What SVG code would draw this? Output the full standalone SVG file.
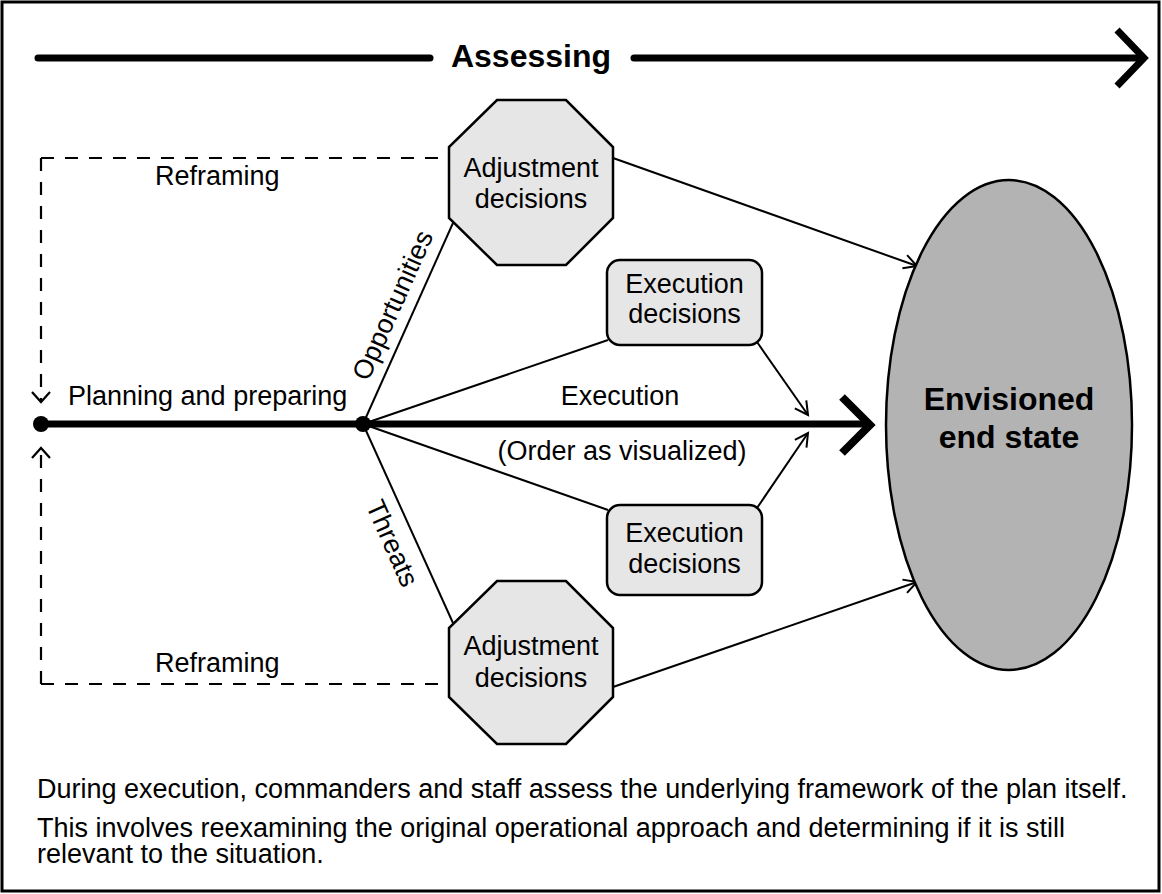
<svg xmlns="http://www.w3.org/2000/svg" width="1162" height="894" viewBox="0 0 1162 894">
<style>
text{font-family:"Liberation Sans",Arial,sans-serif;fill:#000;}
.t{font-size:27px;}
.c{text-anchor:middle;}
.b{font-weight:bold;font-size:32px;}
.thin{stroke:#000;stroke-width:2;fill:none;}
.dash{stroke:#000;stroke-width:2.2;fill:none;stroke-dasharray:13 11;}
.thick{stroke:#000;stroke-width:7;fill:none;}
.node{fill:#e6e6e6;stroke:#000;stroke-width:2.5;}
</style>
<defs>
<marker id="ah" markerUnits="userSpaceOnUse" markerWidth="20" markerHeight="20" refX="14" refY="8" orient="auto" viewBox="0 0 20 16">
<path d="M1,1 L14,8 L1,15" fill="none" stroke="#000" stroke-width="2"/>
</marker>
<marker id="ahd" markerUnits="userSpaceOnUse" markerWidth="20" markerHeight="22" refX="11" refY="10" orient="auto" viewBox="0 0 20 20">
<path d="M1,1 L11,10 L1,19" fill="none" stroke="#000" stroke-width="2.2"/>
</marker>
</defs>
<rect x="2" y="2" width="1157" height="889" fill="#fff" stroke="#000" stroke-width="3"/>

<g id="assessing">
<line x1="38" y1="58" x2="430" y2="58" class="thick" stroke-linecap="round"/>
<line x1="634" y1="58" x2="1141" y2="58" class="thick" stroke-linecap="round"/>
<polyline points="1117,30 1144,58 1117,86" fill="none" stroke="#000" stroke-width="7"/>
<text x="531" y="67" class="c" font-size="32" font-weight="bold">Assessing</text>
</g>

<g id="connectors">
<path d="M41,158 H449" class="dash"/>
<path d="M41,158 V402" class="dash" marker-end="url(#ahd)"/>
<path d="M41,684 H449" class="dash"/>
<path d="M41,684 V448" class="dash" marker-end="url(#ahd)"/>
<line x1="363" y1="424" x2="453" y2="223" class="thin"/>
<line x1="363" y1="424" x2="608" y2="340" class="thin"/>
<line x1="363" y1="424" x2="608" y2="510" class="thin"/>
<line x1="363" y1="424" x2="453" y2="623" class="thin"/>
<line x1="757" y1="342" x2="808" y2="415" class="thin" marker-end="url(#ah)"/>
<line x1="757" y1="508" x2="808" y2="433" class="thin" marker-end="url(#ah)"/>
<line x1="613" y1="158" x2="917" y2="266" class="thin" marker-end="url(#ah)"/>
<line x1="613" y1="687" x2="917" y2="582" class="thin" marker-end="url(#ah)"/>
<line x1="41" y1="424" x2="866" y2="424" class="thick"/>
<polyline points="842,397 870,425 842,453" fill="none" stroke="#000" stroke-width="8"/>
<circle cx="41" cy="424" r="8" fill="#000"/>
<circle cx="363" cy="424" r="8" fill="#000"/>
<text x="155" y="185" class="t">Reframing</text>
<text x="155" y="672" class="t">Reframing</text>
<text x="68" y="405" class="t">Planning and preparing</text>
<text x="620" y="405" class="t c">Execution</text>
<text x="622" y="460" class="t c">(Order as visualized)</text>
<text class="t c" transform="translate(401,309) rotate(-66)">Opportunities</text>
<text class="t c" transform="translate(384,547) rotate(66)">Threats</text>
</g>

<g id="adj-top">
<polygon class="node" points="497,100 566,100 613,147 613,218 566,265 497,265 449,218 449,147"/>
<text x="531" y="177" class="t c">Adjustment</text>
<text x="531" y="208" class="t c">decisions</text>
</g>

<g id="adj-bottom">
<polygon class="node" points="497,581 566,581 613,628 613,697 566,744 497,744 449,697 449,628"/>
<text x="531" y="655" class="t c">Adjustment</text>
<text x="531" y="687" class="t c">decisions</text>
</g>

<g id="exec-top">
<rect class="node" x="607" y="260" width="155" height="85" rx="13"/>
<text x="684.5" y="293" class="t c">Execution</text>
<text x="684.5" y="323" class="t c">decisions</text>
</g>

<g id="exec-bottom">
<rect class="node" x="607" y="505" width="155" height="90" rx="13"/>
<text x="684.5" y="542" class="t c">Execution</text>
<text x="684.5" y="573" class="t c">decisions</text>
</g>

<g id="end-state">
<ellipse cx="1009" cy="425" rx="123" ry="245" fill="#b3b3b3" stroke="#000" stroke-width="2.5"/>
<text x="1009" y="410" class="b c">Envisioned</text>
<text x="1009" y="448" class="b c">end state</text>
</g>

<g id="caption">
<text x="37" y="798" class="t">During execution, commanders and staff assess the underlying framework of the plan itself.</text>
<text x="37" y="837" class="t">This involves reexamining the original operational approach and determining if it is still</text>
<text x="37" y="863" class="t">relevant to the situation.</text>
</g>
</svg>
